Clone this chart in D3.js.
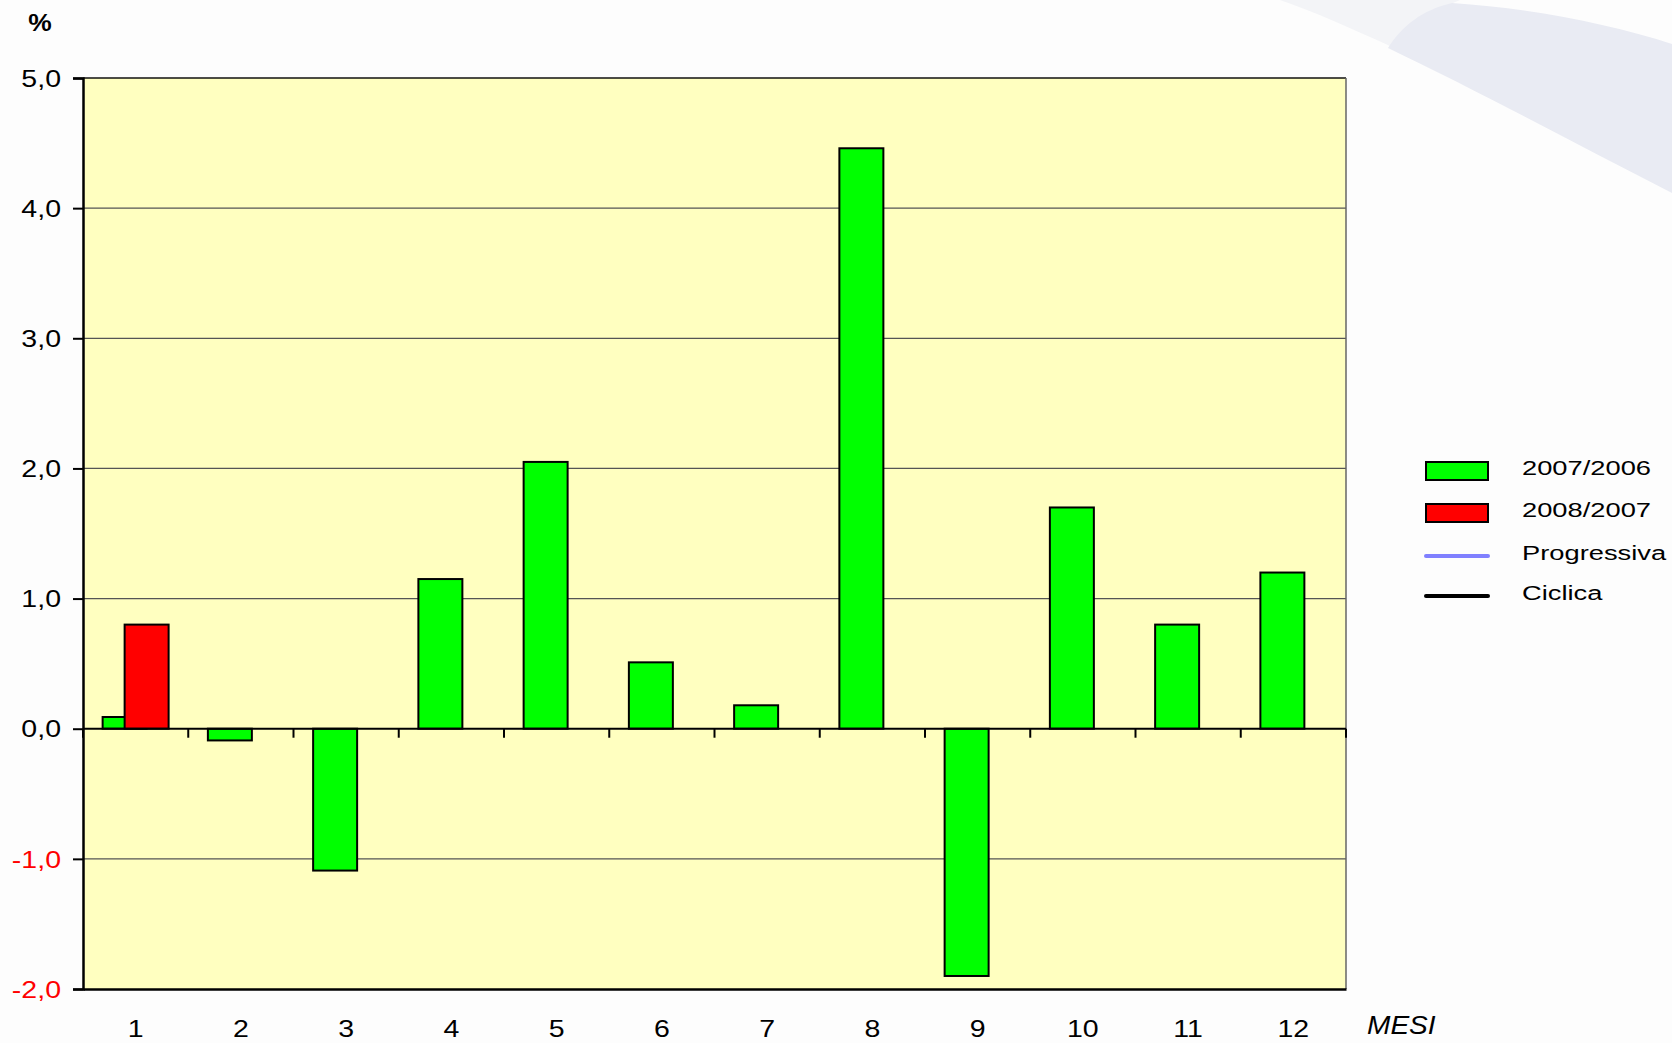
<!DOCTYPE html>
<html>
<head>
<meta charset="utf-8">
<script src="https://cdn.jsdelivr.net/npm/d3@7"></script>
<style>
  body { margin: 0; background: #fff; }
  svg { display: block; font-family: "Liberation Sans", Arial, sans-serif; }
</style>
</head>
<body>
<svg id="chart" width="1672" height="1043"></svg>
<script>
// months on the x axis
var months = ["1", "2", "3", "4", "5", "6", "7", "8", "9", "10", "11", "12"];
// variazione % 2007/2006 (green) and 2008/2007 (red, only January so far)
var var2007 = [0.09, -0.09, -1.09, 1.15, 2.05, 0.51, 0.18, 4.46, -1.90, 1.70, 0.80, 1.20];
var var2008 = [0.80, null, null, null, null, null, null, null, null, null, null, null];
var yTicks = [-2, -1, 0, 1, 2, 3, 4, 5];
var legendLabels = ["2007/2006", "2008/2007", "Progressiva", "Ciclica"];

var W = 1672, H = 1043;
var plot = { left: 83, top: 78, right: 1346, bottom: 989 };
var stretch = 1.24; // the original text is wide, as if squeezed horizontally

var svg = d3.select("#chart");

// faint swoosh of the slide background, top right
svg.append("rect").attr("width", W).attr("height", H).attr("fill", "#fdfdfd");
svg.append("path")
   .attr("d", "M1280,0 L1460,0 C1430,12 1405,28 1390,46 C1350,28 1315,12 1280,0 Z")
   .attr("fill", "#f3f4f7");
svg.append("path")
   .attr("d", "M1388,48 C1402,26 1422,10 1452,3 C1530,8 1610,24 1672,44 L1672,193 C1580,146 1480,92 1388,48 Z")
   .attr("fill", "#e9ebf3");

var x0 = d3.scaleBand()
  .domain(months)
  .range([plot.left, plot.right])
  .paddingInner(0.373)
  .paddingOuter(0.1865);

var barW = x0.bandwidth() / 1.5; // two series overlapping by half a bar

var y = d3.scaleLinear()
  .domain([-2, 5])
  .range([plot.bottom, plot.top]);

var it = d3.formatLocale({ decimal: ",", thousands: ".", grouping: [3], currency: ["", "€"], minus: "-" });
var fmt = it.format(".1f");

// plot area
svg.append("rect")
   .attr("x", plot.left).attr("y", plot.top)
   .attr("width", plot.right - plot.left).attr("height", plot.bottom - plot.top)
   .attr("fill", "#ffffc0");

// gridlines
svg.append("g")
   .selectAll("line")
   .data(yTicks.filter(function(d) { return d !== 0 && d !== -2 && d !== 5; }))
   .enter().append("line")
   .attr("x1", plot.left).attr("x2", plot.right)
   .attr("y1", function(d) { return y(d); })
   .attr("y2", function(d) { return y(d); })
   .attr("stroke", "#555")
   .attr("stroke-width", 1.2);

// top and right border
svg.append("line").attr("x1", plot.left).attr("x2", plot.right)
   .attr("y1", y(5)).attr("y2", y(5)).attr("stroke", "#111").attr("stroke-width", 1.5);
svg.append("line").attr("x1", plot.right).attr("x2", plot.right)
   .attr("y1", plot.top).attr("y2", plot.bottom).attr("stroke", "#666").attr("stroke-width", 1.5);

// bars
var bars = svg.append("g");
bars.selectAll("rect.g7")
    .data(var2007)
    .enter().append("rect")
    .attr("class", "g7")
    .attr("x", function(d, i) { return x0(months[i]); })
    .attr("y", function(d) { return y(Math.max(0, d)); })
    .attr("width", barW)
    .attr("height", function(d) { return Math.abs(y(d) - y(0)); })
    .attr("fill", "#00ff00")
    .attr("stroke", "#000")
    .attr("stroke-width", 2);

bars.selectAll("rect.g8")
    .data(var2008.map(function(v, i) { return { m: months[i], v: v }; }).filter(function(d) { return d.v !== null; }))
    .enter().append("rect")
    .attr("class", "g8")
    .attr("x", function(d) { return x0(d.m) + barW / 2; })
    .attr("y", function(d) { return y(Math.max(0, d.v)); })
    .attr("width", barW)
    .attr("height", function(d) { return Math.abs(y(d.v) - y(0)); })
    .attr("fill", "#ff0000")
    .attr("stroke", "#000")
    .attr("stroke-width", 2);

// zero line with category tick marks
svg.append("line").attr("x1", plot.left).attr("x2", plot.right)
   .attr("y1", y(0)).attr("y2", y(0)).attr("stroke", "#000").attr("stroke-width", 2);
svg.append("g")
   .selectAll("line")
   .data(d3.range(months.length + 1))
   .enter().append("line")
   .attr("x1", function(i) { return plot.left + i * x0.step(); })
   .attr("x2", function(i) { return plot.left + i * x0.step(); })
   .attr("y1", y(0)).attr("y2", y(0) + 9)
   .attr("stroke", "#000").attr("stroke-width", 2);

// y axis
var yAxis = svg.append("g")
   .attr("transform", "translate(" + plot.left + ",0)")
   .call(d3.axisLeft(y).tickValues(yTicks).tickFormat(fmt).tickSize(10).tickPadding(0));
yAxis.select(".domain").attr("stroke", "#000").attr("stroke-width", 2.5);
yAxis.selectAll(".tick line").attr("stroke", "#000").attr("stroke-width", 2);
yAxis.selectAll(".tick text")
   .attr("x", 0).attr("dy", "0.36em")
   .attr("transform", "translate(-22,0) scale(" + stretch + ",1)")
   .attr("font-size", 23)
   .attr("fill", function(d) { return d < 0 ? "#ff0000" : "#000"; });

// x axis labels at the bottom
var xAxis = svg.append("g")
   .attr("transform", "translate(0," + plot.bottom + ")")
   .call(d3.axisBottom(x0).tickSize(0));
xAxis.select(".domain").attr("stroke", "#000").attr("stroke-width", 2.5);
xAxis.selectAll(".tick")
   .attr("transform", function(d) { return "translate(" + (plot.left + (months.indexOf(d) + 0.5) * x0.step()) + ",0)"; });
xAxis.selectAll(".tick text")
   .attr("y", 48).attr("dy", 0)
   .attr("transform", "scale(" + stretch + ",1)")
   .attr("font-size", 23)
   .attr("fill", "#000");

// axis titles
svg.append("text")
   .attr("x", 0).attr("y", 0)
   .attr("transform", "translate(40,31) scale(1.1,1)")
   .attr("text-anchor", "middle")
   .attr("font-size", 24).attr("font-weight", "bold")
   .text("%");
svg.append("text")
   .attr("x", 0).attr("y", 0)
   .attr("transform", "translate(1367,1034) scale(1.08,1)")
   .attr("font-size", 26).attr("font-style", "italic")
   .text("MESI");

// legend
var legend = svg.append("g").attr("transform", "translate(1426,471)");
var rows = legend.selectAll("g")
   .data(legendLabels)
   .enter().append("g")
   .attr("transform", function(d, i) { return "translate(0," + [0, 42, 85, 125][i] + ")"; });

rows.filter(function(d, i) { return i < 2; })
   .append("rect")
   .attr("x", 0).attr("y", -9).attr("width", 62).attr("height", 18)
   .attr("fill", function(d, i) { return i === 0 ? "#00ff00" : "#ff0000"; })
   .attr("stroke", "#000").attr("stroke-width", 2);

rows.filter(function(d, i) { return i >= 2; })
   .append("line")
   .attr("x1", 0).attr("x2", 62).attr("y1", 0).attr("y2", 0)
   .attr("stroke", function(d, i) { return i === 0 ? "#8080ff" : "#000"; })
   .attr("stroke-width", 4)
   .attr("stroke-linecap", "round");

rows.append("text")
   .attr("x", 0).attr("y", 0).attr("dy", "0.3em")
   .attr("transform", "translate(96,-2) scale(1.3,1)")
   .attr("font-size", 21)
   .text(function(d) { return d; });
</script>
</body>
</html>
